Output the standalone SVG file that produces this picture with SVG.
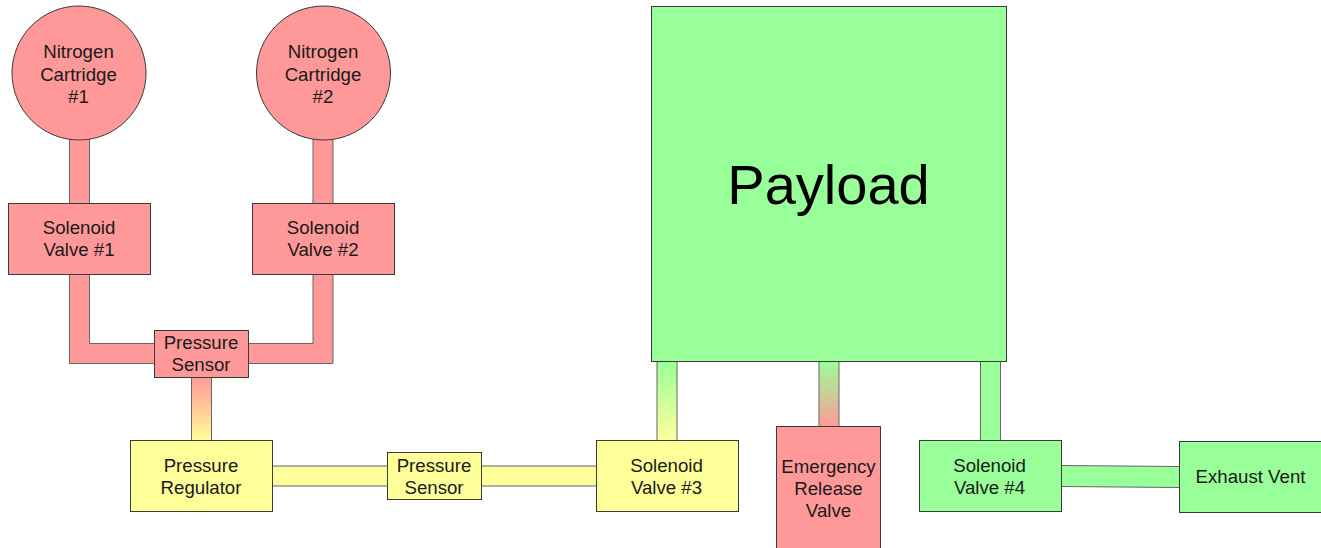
<svg xmlns="http://www.w3.org/2000/svg" width="1321" height="548" viewBox="0 0 1321 548">
<style>
text{font-family:"Liberation Sans",Arial,sans-serif;font-size:18.67px;fill:#1a1a1a;text-anchor:middle}
.n{stroke:#3a3a3a;stroke-width:1}
.r{fill:#ff9999}.y{fill:#ffff99}.g{fill:#99ff99}
.c{stroke:#666;stroke-width:1}
</style>
<defs>
<linearGradient id="ry" x1="0" y1="0" x2="0" y2="1"><stop offset="0" stop-color="#ff9999"/><stop offset="1" stop-color="#ffff99"/></linearGradient>
<linearGradient id="gy" x1="0" y1="0" x2="0" y2="1"><stop offset="0" stop-color="#99ff99"/><stop offset="1" stop-color="#ffff99"/></linearGradient>
<linearGradient id="gr" x1="0" y1="0" x2="0" y2="1"><stop offset="0" stop-color="#99ff99"/><stop offset="1" stop-color="#ff9999"/></linearGradient>
</defs>
<g id="connectors">
<rect class="c r" x="69.500" y="135" width="20" height="70"/>
<rect class="c r" x="313" y="135" width="20" height="70"/>
<path class="c r" d="M69.500 274V363.500H156V343.500H89.500V274Z"/>
<path class="c r" d="M333 274V363.500H247V343.500H313V274Z"/>
<rect class="c" fill="url(#ry)" x="191.500" y="377" width="20" height="64"/>
<rect class="c y" x="272" y="466" width="116" height="20"/>
<rect class="c y" x="481" y="466" width="116" height="20"/>
<rect class="c" fill="url(#gy)" x="657" y="361" width="20" height="80"/>
<rect class="c" fill="url(#gr)" x="819" y="361" width="20" height="66"/>
<rect class="c g" x="980.500" y="361" width="20" height="80"/>
<path class="c g" d="M1061 465.500L1180 466.500V487.500L1061 486.500Z"/>
</g>
<g id="cartridge1"><circle class="n r" cx="79" cy="73" r="67"/><text x="78.500" y="58">Nitrogen</text><text x="78.500" y="81">Cartridge</text><text x="78.500" y="103">#1</text></g>
<g id="cartridge2"><circle class="n r" cx="323.500" cy="73" r="67"/><text x="323" y="58">Nitrogen</text><text x="323" y="81">Cartridge</text><text x="323" y="103">#2</text></g>
<g id="valve1"><rect class="n r" x="8.500" y="203.500" width="142" height="71"/><text x="79" y="234">Solenoid</text><text x="79" y="256">Valve #1</text></g>
<g id="valve2"><rect class="n r" x="252.500" y="203.500" width="142" height="71"/><text x="323" y="234">Solenoid</text><text x="323" y="256">Valve #2</text></g>
<g id="sensor1"><rect class="n r" x="154.500" y="330.500" width="94" height="47"/><text x="201" y="349">Pressure</text><text x="201" y="371">Sensor</text></g>
<g id="regulator"><rect class="n y" x="130.500" y="440.500" width="142" height="71"/><text x="201" y="472">Pressure</text><text x="201" y="494">Regulator</text></g>
<g id="sensor2"><rect class="n y" x="387.500" y="452.500" width="94" height="47"/><text x="434" y="472">Pressure</text><text x="434" y="494">Sensor</text></g>
<g id="valve3"><rect class="n y" x="596.500" y="440.500" width="142" height="71"/><text x="666.500" y="472">Solenoid</text><text x="666.500" y="494">Valve #3</text></g>
<g id="payload"><rect class="n g" x="651.500" y="6.500" width="355" height="355"/><text x="828.500" y="204" style="font-size:56px;fill:#000">Payload</text></g>
<g id="emergency"><rect class="n r" x="776.500" y="426.500" width="104" height="130"/><text x="828.500" y="473">Emergency</text><text x="828.500" y="495">Release</text><text x="828.500" y="517">Valve</text></g>
<g id="valve4"><rect class="n g" x="919.500" y="440.500" width="142" height="71"/><text x="989.500" y="472">Solenoid</text><text x="989.500" y="494">Valve #4</text></g>
<g id="exhaust"><rect class="n g" x="1179.500" y="441.500" width="145" height="71"/><text x="1250.500" y="483">Exhaust Vent</text></g>
</svg>
